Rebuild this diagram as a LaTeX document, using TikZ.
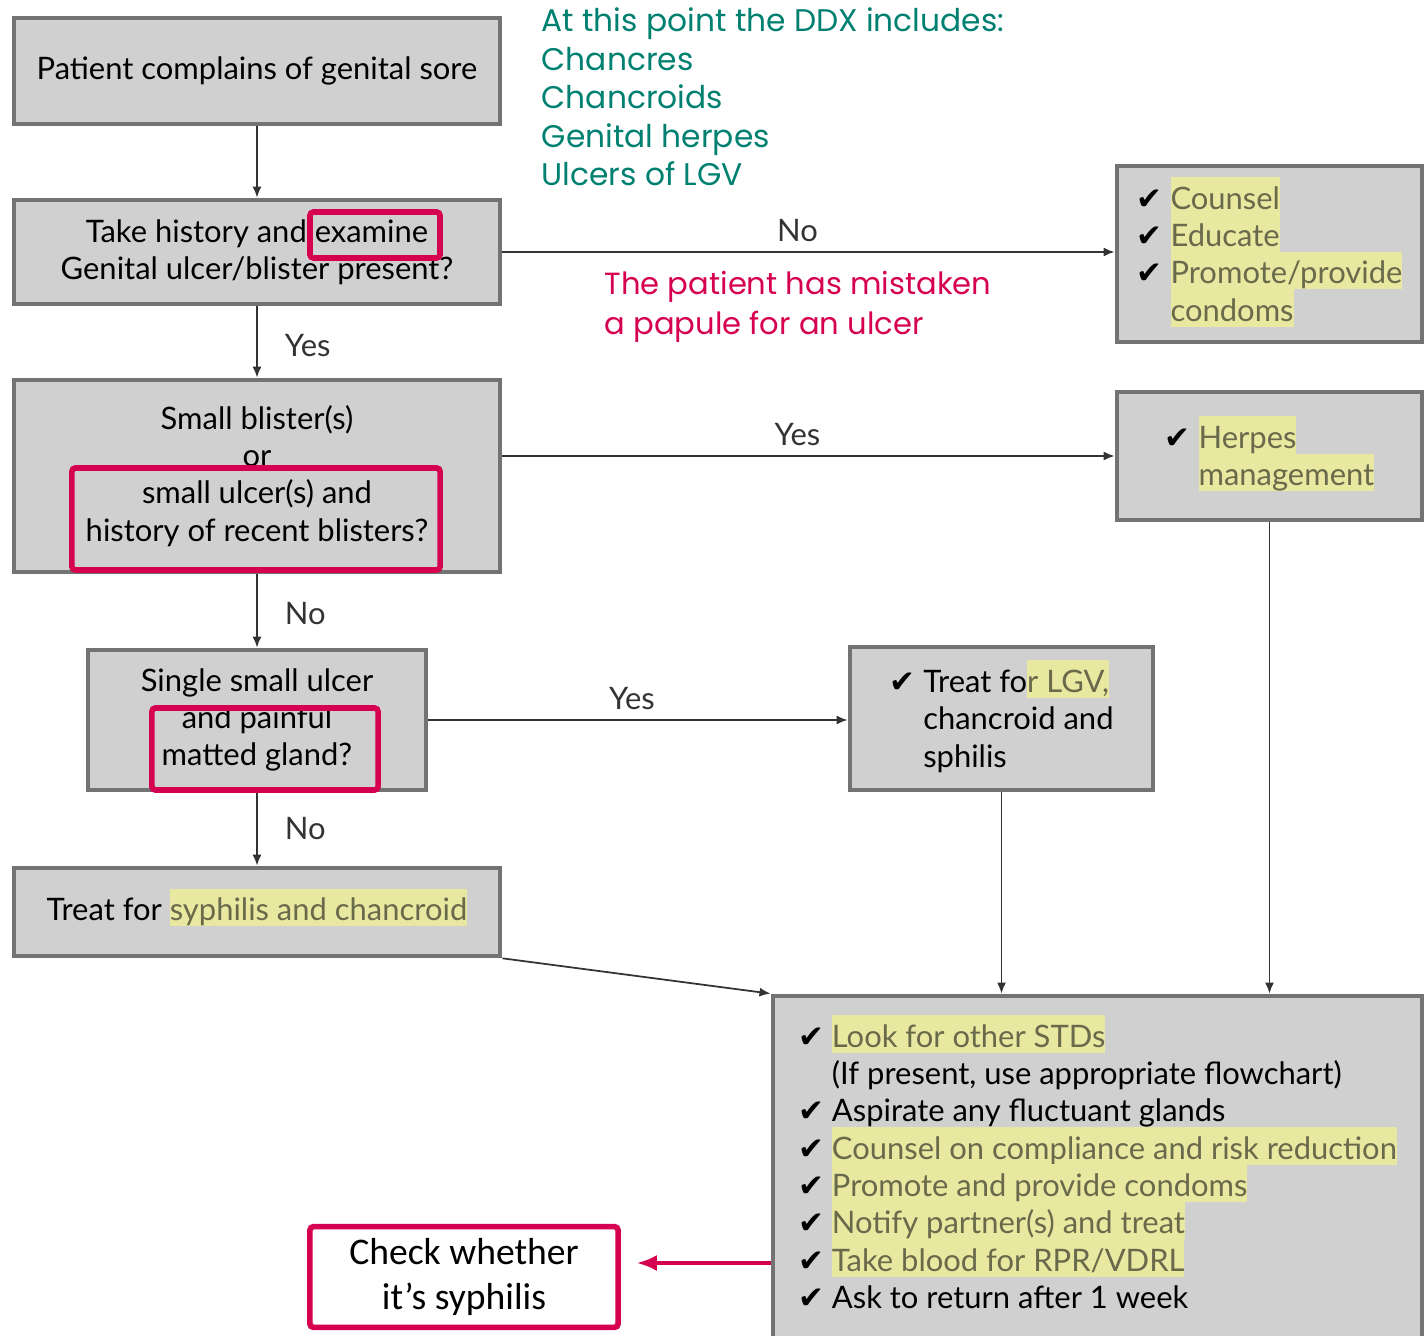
\documentclass[tikz,border=0pt]{standalone}
\usepackage{fontspec}
\setmainfont{Lato}
\newfontfamily\gothic{Poppins}
\newfontfamily\calib{Carlito}
\newfontfamily\dejavu{DejaVu Sans}
\usetikzlibrary{arrows.meta}
\definecolor{boxgray}{RGB}{208,208,208}
\definecolor{edgegray}{RGB}{115,115,115}
\definecolor{ddxgreen}{RGB}{0,128,112}
\definecolor{notered}{RGB}{214,0,80}
\definecolor{hlyellow}{RGB}{232,232,160}
\definecolor{hltext}{RGB}{105,105,75}
\newsavebox\hlbox
\newcommand\hl[1]{\sbox\hlbox{\color{hltext}#1}\rlap{\smash{\textcolor{hlyellow}{\rule[-0.35ex]{\wd\hlbox}{2.4ex}}}}\usebox\hlbox}
\newcommand\ck{{\dejavu ✔}~}
\begin{document}
\begin{tikzpicture}[x=0.01cm,y=-0.01cm,
	flow/.style={draw=edgegray,line width=1.3pt,fill=boxgray,inner sep=0pt,align=center,font=\fontsize{8.8}{10.6}\selectfont},
	tick/.style={flow,align=left},
	redframe/.style={draw=notered,line width=1.6pt,rounded corners=1pt,inner sep=0pt},
	arr/.style={-{Latex[length=1.1mm,width=0.9mm]},line width=0.5pt,black!80},
	redarr/.style={-{Latex[length=2mm,width=1.6mm]},line width=0.9pt,notered},
	lbl/.style={inner sep=0pt,font=\fontsize{8.8}{10}\selectfont}]
	\useasboundingbox (0,0) rectangle (1426,1336);
	% left column
	\node[flow,minimum width=4.86cm,minimum height=1.06cm] (sore) at (257,71) {Patient complains of genital sore};
	\node[flow,minimum width=4.86cm,minimum height=1.04cm] (exam) at (257,252) {Take history and examine\\Genital ulcer/blister present?};
	\node[flow,minimum width=4.86cm,minimum height=1.92cm] (blister) at (257,476) {Small blister(s)\\or\\small ulcer(s) and\\history of recent blisters?};
	\node[flow,minimum width=3.38cm,minimum height=1.40cm] (single) at (257,720) {Single small ulcer\\and painful\\matted gland?};
	\node[flow,minimum width=4.86cm,minimum height=0.88cm] (treatsc) at (257,912) {Treat for \hl{syphilis and chancroid}};
	% right column
	\node[tick,minimum width=3.05cm,minimum height=1.76cm] (counsel) at (1269.5,254) {\ck\hl{Counsel}\\\ck\hl{Educate}\\\ck\hl{Promote/provide}\\\phantom{\ck}\hl{condoms}};
	\node[tick,minimum width=3.05cm,minimum height=1.28cm,text depth=0pt] (herpes) at (1269.5,456) {\ck\hl{Herpes}\\\phantom{\ck}\hl{management}};
	\node[tick,minimum width=3.03cm,minimum height=1.43cm,text depth=0pt] (treatlgv) at (1001.5,718.5) {\ck Treat fo\hl{r LGV,}\\\phantom{\ck}chancroid and\\\phantom{\ck}sphilis};
	\node[tick,minimum width=6.49cm,minimum height=3.49cm,text depth=0.08cm] (care) at (1097.5,1170.5) {\ck\hl{Look for other STDs}\\
		\phantom{\ck}(If present, use appropriate flowchart)\\
		\ck Aspirate any fluctuant glands\\
		\ck\hl{Counsel on compliance and risk reduction}\\
		\ck\hl{Promote and provide condoms}\\
		\ck\hl{Notify partner(s) and treat}\\
		\ck\hl{Take blood for RPR/VDRL}\\
		\ck Ask to return after 1 week};
	% connectors
	\draw[arr] (sore) -- (exam);
	\draw[arr] (exam) -- node[lbl,anchor=west,xshift=0.27cm,yshift=-0.04cm] (yes1) {Yes} (blister);
	\draw[arr] (blister) -- node[lbl,anchor=west,xshift=0.27cm,yshift=-0.03cm] (no2) {No} (single);
	\draw[arr] (single) -- node[lbl,anchor=west,xshift=0.27cm] (no3) {No} (treatsc);
	\draw[arr] (exam.east) -- node[lbl,above=0.09cm,xshift=-0.11cm] (no1) {No} (exam.east -| counsel.west);
	\draw[arr] (herpes.west -| blister.east) -- node[lbl,above=0.09cm,xshift=-0.11cm] (yes2) {Yes} (herpes.west);
	\draw[arr] (single.east) -- node[lbl,above=0.09cm,xshift=-0.06cm] (yes3) {Yes} (single.east -| treatlgv.west);
	\draw[arr] (treatlgv.south) -- (treatlgv.south |- care.north);
	\draw[arr] (herpes.south) -- (herpes.south |- care.north);
	\draw[arr] (treatsc.south east) -- (care.north west);
	% annotations
	\node[anchor=north west,inner sep=0pt,align=left,text=ddxgreen,font=\gothic\fontsize{8.9}{10.95}\selectfont] (ddx) at (541,7) {At this point the DDX includes:\\Chancres\\Chancroids\\Genital herpes\\Ulcers of LGV};
	\node[anchor=north west,inner sep=0pt,align=left,text=notered,font=\gothic\fontsize{8.7}{11.1}\selectfont] (papule) at (604,271) {The patient has mistaken\\a papule for an ulcer};
	\node[redframe,minimum width=1.30cm,minimum height=0.46cm] (exframe) at (375,235) {};
	\node[redframe,minimum width=3.68cm,minimum height=1.02cm] (blframe) at (256,519) {};
	\node[redframe,minimum width=2.26cm,minimum height=0.82cm] (glframe) at (265,749) {};
	\node[draw=notered,line width=1.6pt,rounded corners=1pt,minimum width=3.08cm,minimum height=0.98cm,align=center,font=\calib\fontsize{10.7}{12.8}\selectfont] (syph) at (464,1277) {Check whether\\it’s syphilis};
	\coordinate (tip) at ([xshift=0.16cm,yshift=0.14cm]syph.east);
	\draw[redarr] (tip -| care.west) -- (tip);
\end{tikzpicture}
\end{document}
